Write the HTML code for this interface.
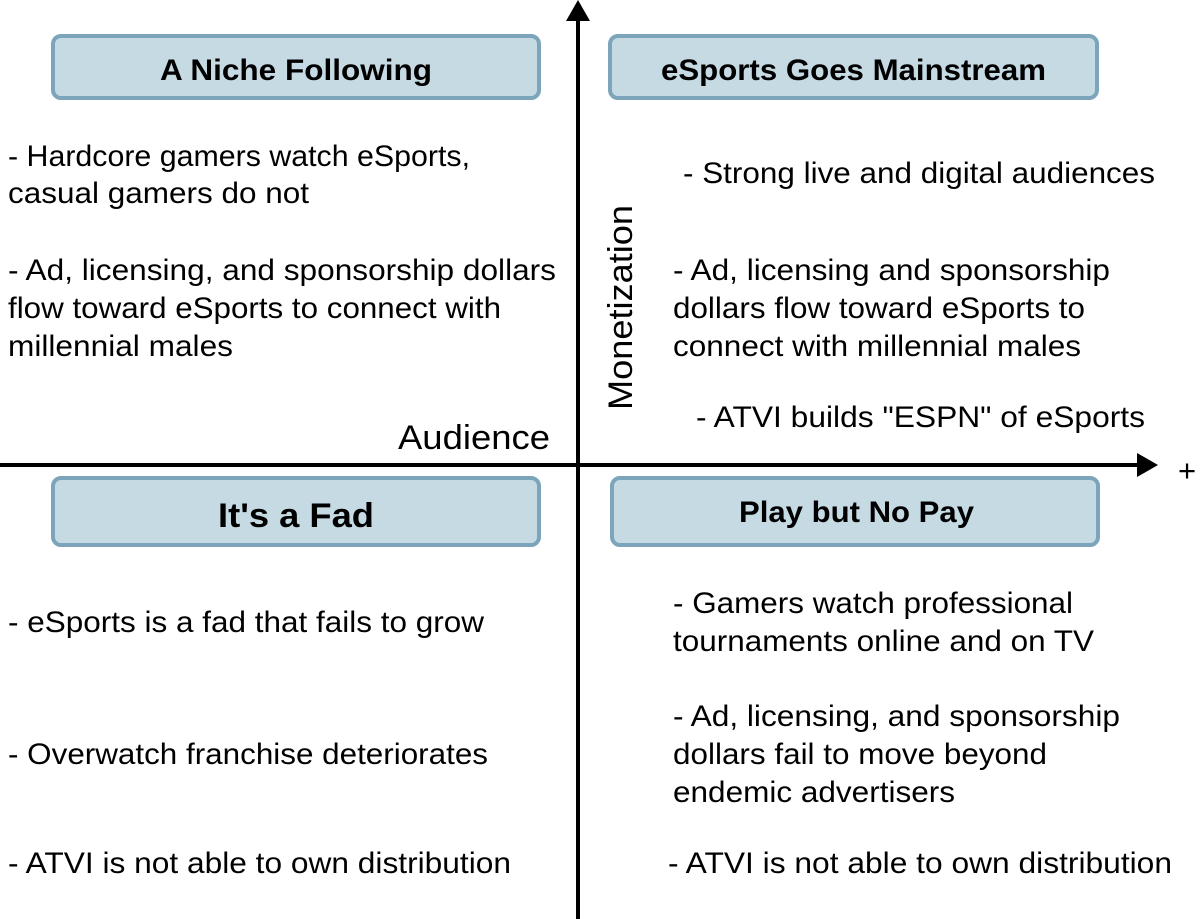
<!DOCTYPE html>
<html><head><style>
html,body{margin:0;padding:0;background:#fff;}
svg{display:block;}
text{font-family:"Liberation Sans",Arial,sans-serif;fill:#000;}
.t{font-size:30px;}
.h{font-size:30px;font-weight:bold;}
</style></head><body>
<svg width="1200" height="919" viewBox="0 0 1200 919">
<g fill="#c6dae4" stroke="#7ca4ba" stroke-width="4">
<rect x="53" y="36" width="486" height="62" rx="8"/>
<rect x="610" y="36" width="487" height="62" rx="8"/>
<rect x="53" y="478" width="486" height="67" rx="8"/>
<rect x="612" y="478" width="486" height="67" rx="8"/>
</g>
<text class="h" x="160" y="80" textLength="272" lengthAdjust="spacingAndGlyphs">A Niche Following</text>
<text class="h" x="661" y="80" textLength="385" lengthAdjust="spacingAndGlyphs">eSports Goes Mainstream</text>
<text class="h" x="218" y="527" textLength="156" lengthAdjust="spacingAndGlyphs" style="font-size:34px">It's a Fad</text>
<text class="h" x="739" y="522" textLength="235" lengthAdjust="spacingAndGlyphs">Play but No Pay</text>
<line x1="578" y1="18" x2="578" y2="919" stroke="#000" stroke-width="4"/>
<polygon points="578,0 566,21 590,21" fill="#000"/>
<line x1="0" y1="465" x2="1140" y2="465" stroke="#000" stroke-width="4"/>
<polygon points="1158,465 1137,453 1137,477" fill="#000"/>
<text class="t" x="1178" y="481" style="font-size:31px">+</text>
<text class="t" x="398" y="449" textLength="152" lengthAdjust="spacingAndGlyphs" style="font-size:34px">Audience</text>
<text class="t" transform="translate(632,410) rotate(-90)" textLength="205" lengthAdjust="spacingAndGlyphs" style="font-size:34px">Monetization</text>
<text class="t" x="8" y="166" textLength="462" lengthAdjust="spacingAndGlyphs">- Hardcore gamers watch eSports,</text>
<text class="t" x="8" y="203" textLength="301" lengthAdjust="spacingAndGlyphs">casual gamers do not</text>
<text class="t" x="8" y="280" textLength="548" lengthAdjust="spacingAndGlyphs">- Ad, licensing, and sponsorship dollars</text>
<text class="t" x="8" y="318" textLength="493" lengthAdjust="spacingAndGlyphs">flow toward eSports to connect with</text>
<text class="t" x="8" y="356" textLength="225" lengthAdjust="spacingAndGlyphs">millennial males</text>
<text class="t" x="683" y="183" textLength="472" lengthAdjust="spacingAndGlyphs">- Strong live and digital audiences</text>
<text class="t" x="673" y="280" textLength="437" lengthAdjust="spacingAndGlyphs">- Ad, licensing and sponsorship</text>
<text class="t" x="673" y="318" textLength="412" lengthAdjust="spacingAndGlyphs">dollars flow toward eSports to</text>
<text class="t" x="673" y="356" textLength="408" lengthAdjust="spacingAndGlyphs">connect with millennial males</text>
<text class="t" x="696" y="427" textLength="449" lengthAdjust="spacingAndGlyphs">- ATVI builds "ESPN" of eSports</text>
<text class="t" x="8" y="632" textLength="476" lengthAdjust="spacingAndGlyphs">- eSports is a fad that fails to grow</text>
<text class="t" x="8" y="764" textLength="480" lengthAdjust="spacingAndGlyphs">- Overwatch franchise deteriorates</text>
<text class="t" x="8" y="873" textLength="503" lengthAdjust="spacingAndGlyphs">- ATVI is not able to own distribution</text>
<text class="t" x="673" y="613" textLength="400" lengthAdjust="spacingAndGlyphs">- Gamers watch professional</text>
<text class="t" x="673" y="651" textLength="421" lengthAdjust="spacingAndGlyphs">tournaments online and on TV</text>
<text class="t" x="673" y="726" textLength="447" lengthAdjust="spacingAndGlyphs">- Ad, licensing, and sponsorship</text>
<text class="t" x="673" y="764" textLength="374" lengthAdjust="spacingAndGlyphs">dollars fail to move beyond</text>
<text class="t" x="673" y="802" textLength="282" lengthAdjust="spacingAndGlyphs">endemic advertisers</text>
<text class="t" x="668" y="873" textLength="504" lengthAdjust="spacingAndGlyphs">- ATVI is not able to own distribution</text>
</svg>
</body></html>
